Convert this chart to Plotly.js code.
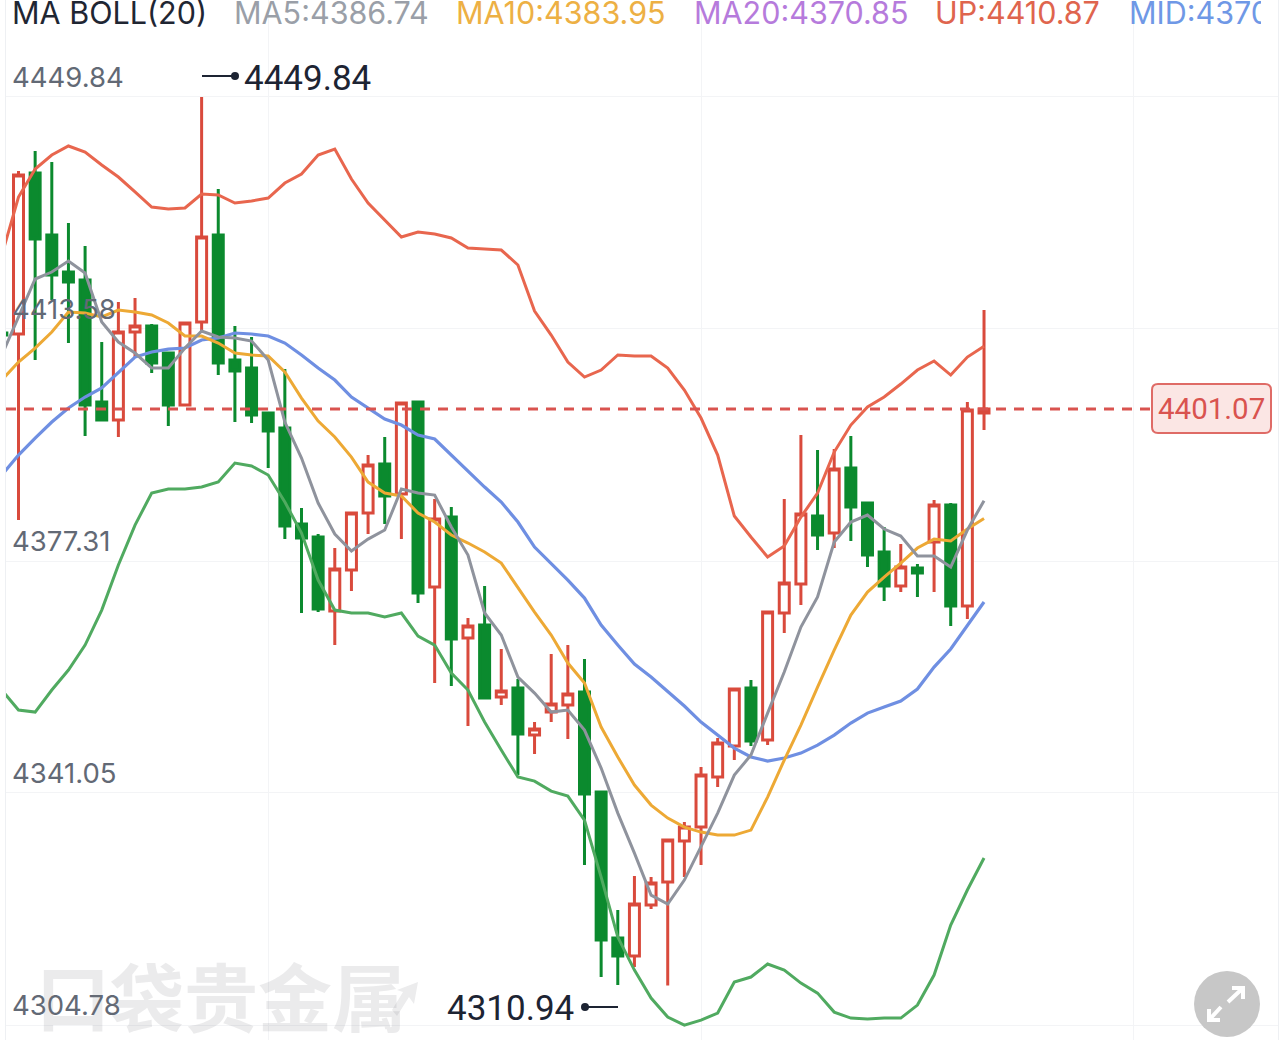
<!DOCTYPE html>
<html><head><meta charset="utf-8">
<script src="https://cdn.plot.ly/plotly-3.0.1.min.js"></script>
<style>html,body{margin:0;padding:0;background:#fff;overflow:hidden}#wrap{position:relative;width:1284px;height:1040px}#chart{position:absolute;left:0;top:0;width:1284px;height:1040px}#cut{position:absolute;left:1261px;top:0;width:23px;height:32px;background:linear-gradient(to right,#fff 17px,#eef0f3 17px,#eef0f3 18px,#fff 18px)}</style>
</head><body><div id="wrap"><div id="chart"></div><div id="cut"></div></div>
<script>
const opens=[4412.95,4412.79,4437.96,4428.26,4422.48,4421.23,4402.16,4399.35,4413.10,4414.04,4409.82,4401.69,4414.66,4428.26,4408.72,4407.47,4400.44,4398.10,4383.09,4381.06,4369.49,4375.90,4384.81,4392.47,4387.78,4402.16,4373.24,4384.18,4365.27,4367.30,4356.04,4357.45,4350.10,4353.70,4354.79,4356.83,4341.19,4318.37,4315.56,4323.53,4327.13,4333.53,4335.72,4343.54,4348.39,4357.45,4349.32,4369.18,4373.71,4384.34,4381.68,4391.84,4386.37,4378.71,4373.40,4376.21,4380.27,4386.06,4370.27,4400.44];
const closes=[4412.63,4437.64,4427.64,4422.01,4420.92,4401.69,4399.35,4413.10,4414.04,4408.26,4401.69,4414.51,4427.95,4408.26,4407.01,4400.13,4397.63,4382.78,4380.90,4369.80,4376.05,4384.81,4392.31,4387.47,4402.00,4372.30,4383.87,4365.11,4367.14,4355.89,4356.98,4350.26,4351.04,4354.95,4356.51,4340.88,4318.06,4315.56,4323.69,4326.97,4333.69,4335.72,4343.85,4348.85,4357.30,4349.17,4369.33,4373.87,4384.65,4381.37,4391.69,4385.75,4378.24,4373.40,4376.37,4375.43,4386.06,4370.27,4400.91,4401.07];
const highs=[4412.95,4438.27,4441.40,4439.68,4430.14,4426.55,4411.54,4417.79,4418.42,4414.35,4409.98,4414.51,4449.84,4435.46,4414.04,4412.32,4400.44,4407.32,4385.59,4381.53,4379.34,4384.81,4393.87,4396.69,4402.00,4402.16,4387.00,4385.75,4368.39,4373.40,4363.55,4358.86,4352.14,4362.77,4364.17,4361.99,4341.19,4322.75,4328.06,4327.91,4333.69,4336.50,4345.10,4349.64,4357.30,4358.70,4369.33,4387.00,4397.00,4394.66,4394.81,4396.84,4386.53,4382.62,4379.96,4376.84,4386.84,4386.37,4402.16,4416.54];
const lows=[4412.63,4383.71,4408.72,4418.10,4411.38,4396.84,4399.19,4396.69,4409.04,4406.69,4398.41,4401.69,4413.26,4406.38,4399.03,4398.88,4391.84,4380.74,4369.18,4369.33,4364.17,4372.61,4381.53,4383.09,4380.74,4370.74,4358.23,4357.76,4351.51,4355.73,4354.79,4343.85,4347.13,4352.14,4349.48,4329.78,4312.28,4311.02,4313.84,4322.90,4310.94,4327.91,4329.78,4341.98,4346.20,4348.39,4348.54,4366.05,4370.43,4379.02,4379.34,4380.43,4376.37,4371.05,4372.46,4371.68,4372.46,4367.14,4368.24,4397.78];
const up=[4425.14,4434.20,4438.58,4440.77,4442.18,4441.24,4439.21,4437.33,4434.99,4432.64,4432.33,4432.49,4434.67,4434.52,4433.27,4433.58,4434.05,4436.39,4437.80,4440.77,4441.71,4437.02,4433.27,4430.61,4427.95,4428.73,4428.42,4427.80,4426.23,4426.08,4425.92,4423.58,4416.38,4412.63,4408.41,4406.07,4407.16,4409.51,4409.35,4409.35,4407.47,4404.04,4399.66,4393.87,4384.34,4381.06,4377.93,4379.65,4384.18,4387.93,4394.34,4398.56,4401.38,4402.94,4404.97,4407.16,4408.57,4406.38,4409.19,4410.87];
const mid=[4390.75,4393.87,4396.53,4399.03,4401.22,4402.94,4404.35,4406.85,4409.19,4409.98,4410.44,4410.60,4411.85,4412.16,4412.95,4412.79,4412.48,4411.38,4409.51,4407.47,4405.60,4402.94,4401.22,4399.50,4398.56,4397.00,4396.38,4393.87,4391.53,4388.87,4386.53,4383.40,4379.49,4376.99,4374.33,4371.52,4367.30,4364.17,4361.20,4359.17,4356.98,4354.64,4352.14,4350.10,4348.07,4346.67,4346.04,4346.51,4347.29,4348.54,4350.10,4351.98,4353.54,4354.48,4355.42,4357.30,4360.73,4363.55,4367.30,4370.90];
const low=[4357.14,4354.01,4353.70,4357.14,4360.27,4364.17,4369.64,4376.68,4382.93,4387.93,4388.56,4388.56,4388.87,4389.65,4392.62,4392.16,4390.75,4386.53,4381.68,4374.33,4369.64,4369.18,4369.18,4368.55,4369.18,4365.58,4364.17,4359.80,4357.14,4352.14,4347.76,4343.54,4342.91,4341.35,4340.57,4336.82,4327.91,4318.53,4313.37,4308.99,4306.02,4304.77,4305.55,4306.65,4311.49,4312.28,4314.31,4313.37,4311.34,4309.77,4306.80,4305.87,4305.71,4305.87,4305.87,4307.90,4312.59,4320.40,4325.88,4330.88];
const ma5=[4409.51,4415.45,4421.39,4422.48,4424.20,4422.32,4414.66,4411.54,4409.82,4407.47,4407.47,4410.60,4413.26,4412.32,4412.16,4411.69,4408.72,4399.03,4393.41,4386.37,4381.53,4378.87,4380.74,4382.15,4388.56,4387.93,4387.62,4382.62,4378.24,4369.18,4365.74,4359.17,4356.67,4353.70,4354.01,4350.89,4344.95,4337.91,4331.66,4325.09,4323.69,4327.44,4332.60,4337.91,4343.85,4346.98,4353.54,4359.95,4366.99,4371.68,4380.27,4383.40,4384.50,4382.31,4381.21,4378.09,4378.09,4376.37,4382.15,4386.74];
const ma10=[4405.60,4408.41,4410.60,4413.10,4416.23,4416.07,4415.45,4416.54,4416.23,4415.76,4414.51,4412.48,4412.48,4411.38,4409.82,4409.51,4409.35,4406.85,4402.78,4399.19,4396.69,4393.56,4389.65,4387.93,4387.47,4384.81,4383.40,4381.37,4380.12,4378.71,4376.99,4373.08,4369.33,4365.74,4361.36,4358.23,4351.36,4346.67,4342.29,4339.16,4337.13,4335.72,4334.94,4334.47,4334.47,4335.25,4340.41,4346.20,4351.67,4357.61,4363.39,4368.86,4372.46,4374.80,4376.99,4379.34,4380.74,4380.43,4382.31,4383.95];
const session=opens.map((_,i)=>i-1);
const gridPrices=[4449.84,4413.58,4377.31,4341.05,4304.78];
const gridLabels=["4449.84","4413.58","4377.31","4341.05","4304.78"];
const headerTexts=["MA BOLL(20)","MA5:4386.74","MA10:4383.95","MA20:4370.85","UP:4410.87","MID:4370.85"];
const headerColors=["#1f2633","#9a9fa8","#edb044","#b67bdc","#df654e","#6f98e6"];
const headerLefts=[11,233,455,693,934,1128];
const lastPrice=4401.07, highLabel="4449.84", lowLabel="4310.94", priceLabel="4401.07", watermark="口袋贵金属";

const W=1272,L=6,H=1040;
const fx=p=>(p-L)/W, fy=p=>1-p/H;
const P=(x,y)=>fx(x).toFixed(5)+' '+fy(y).toFixed(5);
const FONT='Inter, Roboto, sans-serif', BIG='Roboto, sans-serif';
const RED='#d94a3c',GREEN='#0b8a2e';

const mkLine=(y,c,w)=>({type:'scatter',mode:'lines',x:session,y,line:{color:c,width:w},hoverinfo:'skip'});
const traces=[
 {type:'candlestick',x:session,open:opens,high:highs,low:lows,close:closes,whiskerwidth:0,
  increasing:{line:{color:RED,width:3},fillcolor:'#ffffff'},
  decreasing:{line:{color:GREEN,width:3},fillcolor:GREEN},hoverinfo:'skip'},
 mkLine(low,'#50aa60',3),mkLine(up,'#e8664e',3),mkLine(mid,'#6f8fe2',3.2),
 mkLine(ma10,'#eda935',3),mkLine(ma5,'#8f939d',3)
];
const ann=(t,x,y,size,color,anchor,extra)=>Object.assign({text:t,xref:'paper',yref:'paper',x:fx(x),y:fy(y),xanchor:anchor||'left',yanchor:'middle',showarrow:false,borderpad:0,font:{family:FONT,size,color}},extra||{});
const annotations=headerTexts.map((t,i)=>ann(t,headerLefts[i],13,30.5,headerColors[i]));
annotations.push(ann(highLabel,243,79,35,'#1d2433','left',{font:{family:BIG,size:35,color:'#1d2433'}}));
annotations.push(ann(lowLabel,575,1008,35,'#1d2433','right',{font:{family:BIG,size:35,color:'#1d2433'}}));
annotations.push(ann(priceLabel,1211.5,409,29.5,'#d9534f','center',{font:{family:BIG,size:29.5,color:'#d9534f'}}));
annotations.push(ann(watermark,35,993,74,'rgba(120,120,125,0.15)','left',{font:{family:'"Noto Sans CJK SC", sans-serif',size:74,color:'rgba(120,120,125,0.15)',weight:700}}));

const sp=(path,o)=>Object.assign({type:'path',xref:'paper',yref:'paper',path},o);
const R=(x0,y0,x1,y1,r)=>`M ${P(x0+r,y0)} L ${P(x1-r,y0)} Q ${P(x1,y0)} ${P(x1,y0+r)} L ${P(x1,y1-r)} Q ${P(x1,y1)} ${P(x1-r,y1)} L ${P(x0+r,y1)} Q ${P(x0,y1)} ${P(x0,y1-r)} L ${P(x0,y0+r)} Q ${P(x0,y0)} ${P(x0+r,y0)} Z`;
const shapes=[
 {type:'line',xref:'paper',yref:'y',x0:0,x1:fx(1152),y0:lastPrice,y1:lastPrice,line:{color:'#d9534f',width:3,dash:'10px,8px'},layer:'above'},
 sp(R(1152,384,1271,433,6),{fillcolor:'#fbe6e4',line:{color:'#df6b66',width:2},layer:'above'}),
 {type:'line',xref:'paper',yref:'paper',x0:fx(202),x1:fx(235),y0:fy(76),y1:fy(76),line:{color:'#1d2433',width:2},layer:'above'},
 {type:'circle',xref:'paper',yref:'paper',x0:fx(231),x1:fx(239),y0:fy(72),y1:fy(80),fillcolor:'#1d2433',line:{width:0},layer:'above'},
 {type:'line',xref:'paper',yref:'paper',x0:fx(586),x1:fx(618),y0:fy(1007),y1:fy(1007),line:{color:'#1d2433',width:2},layer:'above'},
 {type:'circle',xref:'paper',yref:'paper',x0:fx(581),x1:fx(589),y0:fy(1003),y1:fy(1011),fillcolor:'#1d2433',line:{width:0},layer:'above'},
 {type:'circle',xref:'paper',yref:'paper',x0:fx(1194),x1:fx(1260),y0:fy(971),y1:fy(1037),fillcolor:'#c7c7c7',line:{width:0},layer:'above'},
 sp(`M ${P(1228,1002)} L ${P(1243,988)} M ${P(1232,988)} L ${P(1243,988)} L ${P(1243,999)}`,{line:{color:'#fff',width:4},layer:'above'}),
 sp(`M ${P(1221,1007)} L ${P(1209,1020)} M ${P(1209,1009)} L ${P(1209,1020)} L ${P(1220,1020)}`,{line:{color:'#fff',width:4},layer:'above'}),
 sp(`M ${P(392,1010)} L ${P(403,992)} L ${P(397,990)} L ${P(418,982)} L ${P(414,1004)} L ${P(409,997)} L ${P(397,1016)} Z`,{fillcolor:'#ececed',line:{width:0},layer:'below'})
];
const layout={width:1284,height:1040,margin:{l:6,r:6,t:0,b:0,pad:0},paper_bgcolor:'#fff',plot_bgcolor:'#fff',showlegend:false,boxgap:0.4,boxgroupgap:0,
 xaxis:{type:'linear',range:[-0.751,75.66],rangeslider:{visible:false},showticklabels:false,tickvals:[15,41,67],showgrid:true,gridcolor:'#f3f4f6',gridwidth:1,zeroline:false,ticks:'',fixedrange:true},
 yaxis:{type:'linear',range:[4302.44,4465.0],tickvals:gridPrices,ticktext:gridLabels,ticklabelposition:'inside top',ticklabelstandoff:8,showgrid:true,gridcolor:'#f3f4f6',gridwidth:1,zeroline:false,showline:true,linecolor:'#eef0f3',linewidth:1,mirror:true,ticks:'',tickfont:{family:FONT,size:27.5,color:'#626975'},fixedrange:true},
 annotations,shapes,font:{family:FONT},hovermode:false};
Plotly.newPlot('chart',traces,layout,{displayModeBar:false,staticPlot:true});
</script></body></html>
